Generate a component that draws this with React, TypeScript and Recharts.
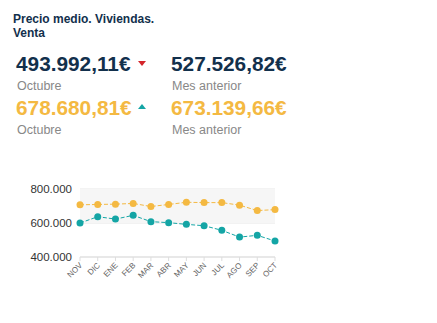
import React from 'react';
import { LineChart, Line, XAxis, YAxis, CartesianGrid, ReferenceArea } from 'recharts';

const months = ['NOV', 'DIC', 'ENE', 'FEB', 'MAR', 'ABR', 'MAY', 'JUN', 'JUL', 'AGO', 'SEP', 'OCT'];
const ventaA = [600000, 637000, 623000, 645000, 608000, 602000, 592000, 584000, 557000, 517000, 527527, 493992];
const ventaB = [707000, 709000, 711000, 715000, 697000, 709000, 722000, 720000, 720000, 705000, 673140, 678681];
const yTicks = [400000, 600000, 800000];

const data = months.map((m, i) => ({ month: m, a: ventaA[i], b: ventaB[i] }));

const NAVY = '#12304c';
const ORANGE = '#f4b942';
const TEAL = '#14a5a5';
const RED = '#d4252b';

const fmt = (v: number) => v.toLocaleString('de-DE');

const MonthTick = (props: any) => {
  const { x, y, payload } = props;
  return (
    <g transform={`translate(${x},${y})`}>
      <text x={0} y={0} dy={4} textAnchor="end" fill="#666" fontSize={8} transform="rotate(-45)">
        {payload.value}
      </text>
    </g>
  );
};

const Tri = ({ up, color }: { up: boolean; color: string }) => (
  <svg width={8} height={5} style={{ position: 'absolute' }}>
    <polygon points={up ? '0,5 8,5 4,0' : '0,0 8,0 4,5'} fill={color} />
  </svg>
);

const txt = (left: number, top: number, size: number, color: string, weight: number, s: string) => (
  <div style={{ position: 'absolute', left, top, fontSize: size, color, fontWeight: weight, lineHeight: 1, whiteSpace: 'nowrap' }}>{s}</div>
);

export default function App() {
  return (
    <div style={{ position: 'absolute', left: 0, top: 0, width: 437, height: 323, fontFamily: '"Liberation Sans", Arial, sans-serif', background: '#fff' }}>
      <div style={{ position: 'absolute', left: 13, top: 12, fontSize: 12, fontWeight: 700, color: NAVY, lineHeight: '14px' }}>
        Precio medio. Viviendas.<br />Venta
      </div>
      {txt(16, 54, 20.8, NAVY, 700, '493.992,11€')}
      <div style={{ position: 'absolute', left: 138, top: 61 }}><Tri up={false} color={RED} /></div>
      {txt(17, 80, 12.5, '#888', 400, 'Octubre')}
      {txt(171, 54, 20.8, NAVY, 700, '527.526,82€')}
      {txt(172, 80, 12.5, '#888', 400, 'Mes anterior')}
      {txt(16, 98, 20.8, ORANGE, 700, '678.680,81€')}
      <div style={{ position: 'absolute', left: 138, top: 104 }}><Tri up={true} color={TEAL} /></div>
      {txt(17, 124, 12.5, '#888', 400, 'Octubre')}
      {txt(171, 98, 20.8, ORANGE, 700, '673.139,66€')}
      {txt(172, 124, 12.5, '#888', 400, 'Mes anterior')}
      <div style={{ position: 'absolute', left: 0, top: 180 }}>
        <LineChart width={290} height={112} data={data} margin={{ top: 9, right: 15, bottom: 5, left: 0 }}>
          <ReferenceArea y1={600000} y2={800000} fill="#f6f6f6" fillOpacity={1} stroke="none" />
          <CartesianGrid vertical={false} stroke="#e6e6e6" />
          <XAxis
            dataKey="month"
            interval={0}
            height={30}
            tick={<MonthTick />}
            stroke="#dddddd"
            tickSize={4}
            padding={{ left: 0, right: 0 }}
          />
          <YAxis
            width={80}
            domain={[400000, 800000]}
            ticks={yTicks}
            tickFormatter={fmt}
            axisLine={false}
            tickLine={false}
            tick={{ fill: '#333', fontSize: 11.5 }}
          />
          <Line
            dataKey="b"
            stroke={ORANGE}
            strokeWidth={1}
            strokeDasharray="4 2"
            dot={{ r: 3.5, fill: ORANGE, stroke: ORANGE, strokeWidth: 0 }}
            isAnimationActive={false}
          />
          <Line
            dataKey="a"
            stroke={TEAL}
            strokeWidth={1}
            strokeDasharray="4 2"
            dot={{ r: 3.5, fill: TEAL, stroke: TEAL, strokeWidth: 0 }}
            isAnimationActive={false}
          />
        </LineChart>
      </div>
    </div>
  );
}
